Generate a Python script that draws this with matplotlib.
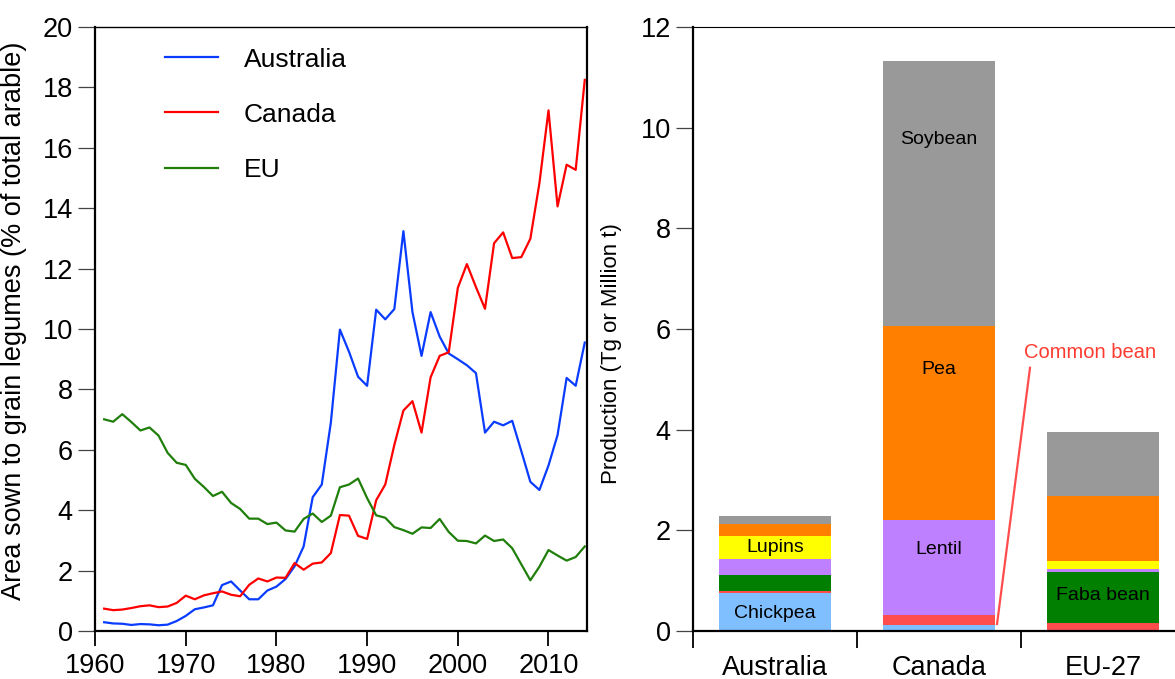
import numpy as np
import matplotlib.pyplot as plt

plt.rcParams['font.family'] = ['Liberation Sans', 'DejaVu Sans']

# left panel: area sown to grain legumes, % of arable land
years = list(range(1961, 2015))
australia = [0.29, 0.25, 0.24, 0.20, 0.23, 0.22, 0.19, 0.21, 0.33, 0.50,
             0.72, 0.78, 0.85, 1.52, 1.64, 1.34, 1.05, 1.05, 1.34, 1.47,
             1.72, 2.14, 2.80, 4.43, 4.85, 6.90, 9.98, 9.25, 8.42, 8.12,
             10.64, 10.32, 10.66, 13.24, 10.56, 9.11, 10.56, 9.75, 9.19, 9.00,
             8.80, 8.54, 6.57, 6.93, 6.81, 6.96, 5.96, 4.94, 4.67, 5.48,
             6.49, 8.38, 8.12, 9.55]
canada = [0.74, 0.69, 0.71, 0.76, 0.82, 0.85, 0.79, 0.81, 0.93, 1.17,
          1.05, 1.18, 1.25, 1.31, 1.20, 1.15, 1.53, 1.74, 1.64, 1.77,
          1.76, 2.25, 2.03, 2.23, 2.27, 2.58, 3.84, 3.82, 3.15, 3.05,
          4.33, 4.85, 6.16, 7.30, 7.61, 6.57, 8.40, 9.11, 9.23, 11.36,
          12.15, 11.39, 10.67, 12.84, 13.20, 12.35, 12.38, 12.99, 14.83, 17.24,
          14.06, 15.44, 15.27, 18.25]
eu = [7.01, 6.93, 7.18, 6.92, 6.64, 6.74, 6.47, 5.90, 5.57, 5.50,
      5.04, 4.77, 4.47, 4.61, 4.24, 4.04, 3.72, 3.72, 3.54, 3.59,
      3.33, 3.29, 3.71, 3.89, 3.61, 3.82, 4.76, 4.85, 5.05, 4.40,
      3.83, 3.75, 3.44, 3.34, 3.22, 3.43, 3.41, 3.71, 3.28, 2.99,
      2.98, 2.90, 3.16, 2.98, 3.03, 2.74, 2.21, 1.68, 2.13, 2.68,
      2.50, 2.33, 2.45, 2.80]

# right panel: production by crop (Tg)
regions = ['Australia', 'Canada', 'EU-27']
crops = ['Chickpea', 'Common bean', 'Faba bean', 'Lentil', 'Lupins', 'Pea', 'Soybean']
production = {
    'Chickpea':    [0.75, 0.11, 0.00],
    'Common bean': [0.05, 0.21, 0.15],
    'Faba bean':   [0.31, 0.00, 1.03],
    'Lentil':      [0.32, 1.89, 0.06],
    'Lupins':      [0.46, 0.00, 0.16],
    'Pea':         [0.24, 3.85, 1.28],
    'Soybean':     [0.16, 5.27, 1.28],
}
crop_colors = ['#80bfff', '#ff4d4d', '#007f00', '#bf80ff', '#ffff00', '#ff7f00', '#999999']

fig = plt.figure(figsize=(11.75, 6.79), dpi=100)

# ---- left panel
ax1 = fig.add_axes([0.0809, 0.0707, 0.4187, 0.8895])
ax1.plot(years, australia, color='#0a3cff', lw=1.6, label='Australia')
ax1.plot(years, canada, color='#ff0000', lw=1.6, label='Canada')
ax1.plot(years, eu, color='#1f7f0a', lw=1.6, label='EU')
ax1.set_xlim(1960, 2014.25)
ax1.set_ylim(0, 20)
ax1.set_xticks(range(1960, 2011, 10))
ax1.set_yticks(range(0, 21, 2))
ax1.tick_params(axis='x', direction='out', length=11, width=1.3, pad=5, labelsize=19.5)
ax1.tick_params(axis='y', direction='out', length=12, width=0.9, color='#444444', pad=4, labelsize=19.5)
for side in ['left', 'bottom', 'right']:
    ax1.spines[side].set_linewidth(1.6)
ax1.spines['top'].set_linewidth(1.0)
ax1.set_ylabel('Area sown to grain legumes (% of total arable)', fontsize=19.5)
ax1.yaxis.set_label_coords(-0.138, 0.513)
ax1.legend(frameon=False, loc='upper left', bbox_to_anchor=(0.142, 0.966),
           borderaxespad=0, borderpad=0, fontsize=19, handlelength=2.0,
           handletextpad=1.0, labelspacing=1.18)

# ---- right panel
ax2 = fig.add_axes([0.5898, 0.0707, 0.4187, 0.8895])
x = np.arange(len(regions))
bottom = np.zeros(len(regions))
for crop, col in zip(crops, crop_colors):
    vals = np.array(production[crop])
    ax2.bar(x, vals, 0.68, bottom=bottom, color=col, edgecolor='none')
    bottom += vals
ax2.set_xlim(-0.5, 2.5)
ax2.set_ylim(0, 12)
ax2.set_yticks(range(0, 13, 2))
ax2.set_xticks(x)
ax2.set_xticklabels(regions)
ax2.set_xticks([-0.5, 0.5, 1.5, 2.5], minor=True)
ax2.tick_params(axis='x', which='major', length=0, pad=17, labelsize=19.5)
ax2.tick_params(axis='x', which='minor', length=12, width=1.3, direction='out')
ax2.tick_params(axis='y', direction='out', length=12, width=0.9, color='#444444', pad=4, labelsize=19.5)
ax2.spines['left'].set_linewidth(1.6)
ax2.spines['bottom'].set_linewidth(1.6)
ax2.spines['top'].set_linewidth(0.8)
ax2.spines['right'].set_visible(False)
ax2.set_ylabel('Production (Tg or Million t)', fontsize=16)
ax2.yaxis.set_label_coords(-0.144, 0.459)

# segment labels
ax2.text(0, 0.34, 'Chickpea', ha='center', va='center', fontsize=14)
ax2.text(0, 1.65, 'Lupins', ha='center', va='center', fontsize=14)
ax2.text(1, 9.76, 'Soybean', ha='center', va='center', fontsize=14)
ax2.text(1, 5.19, 'Pea', ha='center', va='center', fontsize=14)
ax2.text(1, 1.61, 'Lentil', ha='center', va='center', fontsize=14)
ax2.text(2, 0.70, 'Faba bean', ha='center', va='center', fontsize=14)
ax2.text(1.92, 5.53, 'Common bean', ha='center', va='center', fontsize=14.5, color='#ff3b30')
ax2.plot([1.555, 1.354], [5.23, 0.14], color='#ff4d4d', lw=1.6)

fig.savefig('out.png', dpi=100)
